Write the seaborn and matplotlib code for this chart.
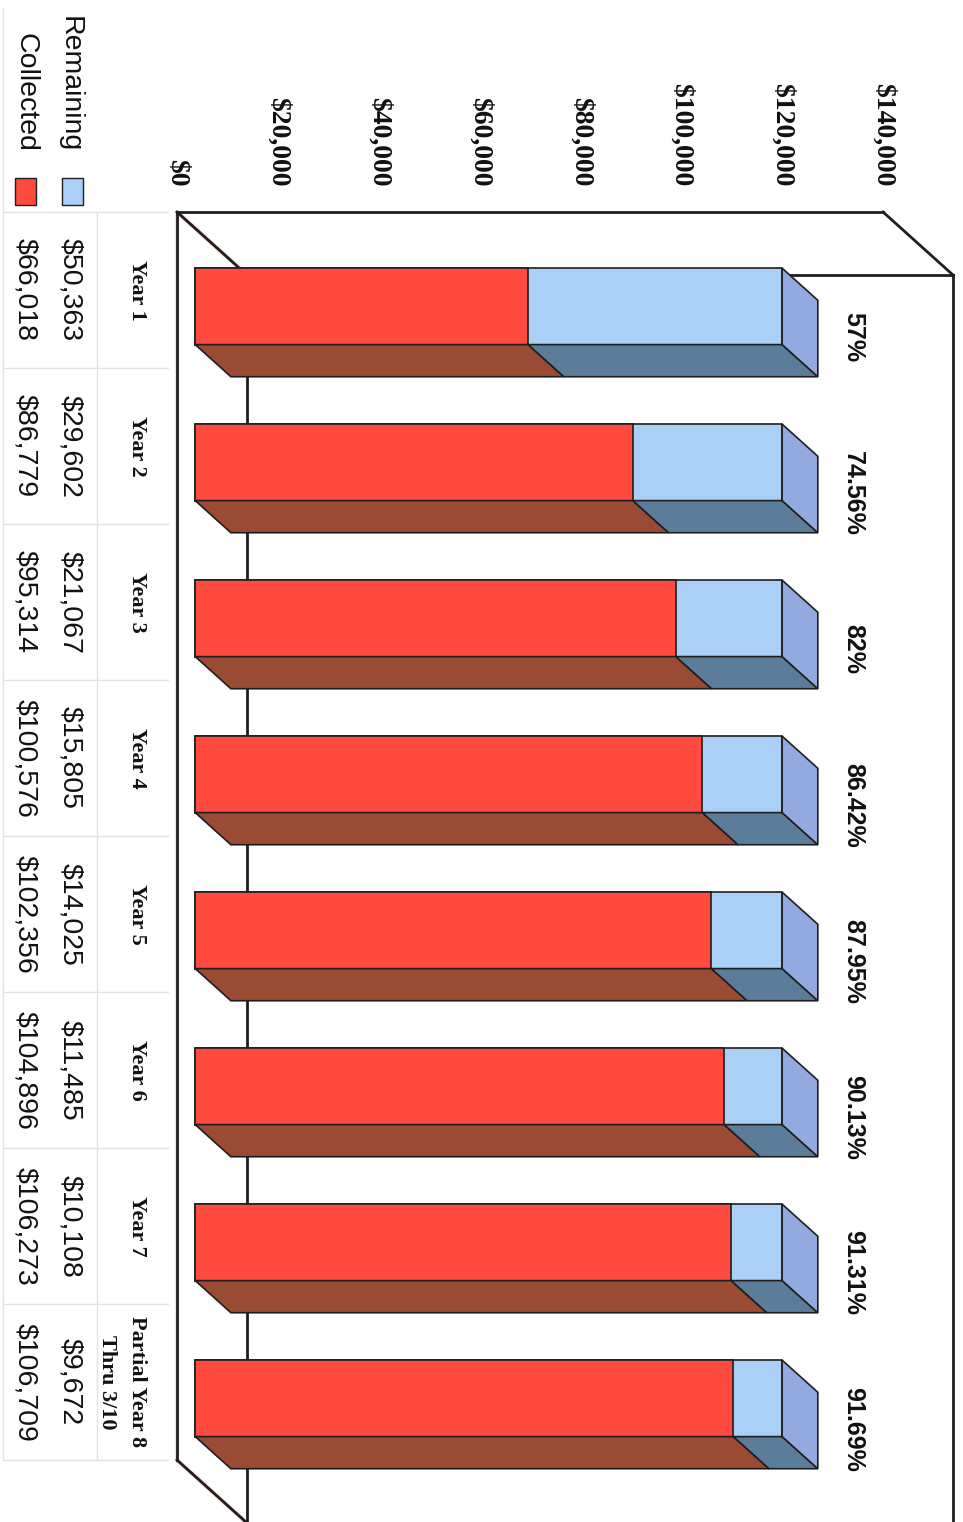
import pandas as pd
import seaborn as sns
from matplotlib import pyplot as plt
from matplotlib.patches import Polygon, Rectangle
from matplotlib.lines import Line2D

# data
periods = ["Year 1", "Year 2", "Year 3", "Year 4", "Year 5", "Year 6", "Year 7",
           "Partial Year 8\nThru 3/10"]
collected = [66018, 86779, 95314, 100576, 102356, 104896, 106273, 106709]
remaining = [50363, 29602, 21067, 15805, 14025, 11485, 10108, 9672]
pct_labels = ["57%", "74.56%", "82%", "86.42%", "87.95%", "90.13%", "91.31%", "91.69%"]
value_ticks = [0, 20000, 40000, 60000, 80000, 100000, 120000, 140000]

# colours
RED = "#ff4a40"
RED_DEPTH = "#9b4a33"
BLUE = "#abd0f7"
BLUE_DEPTH = "#5b7d99"
BLUE_SIDE = "#93aae0"
EDGE = "#1e1e1e"
GRID = "#e2e2e2"

# layout (pixels of the rotated picture)
W, H = 963, 1522
X0, K = 177, 0.005043      # x pixel of $0 on the front plane, pixels per dollar
Y0, S = 212, 156           # top of first category slot, pixels per slot
DEPTH = (70, 63)           # depth of the 3d box in pixels
BAR_D0, BAR_D1 = 0.26, 0.77
BAR_W = 0.49
VMAX = 140000

SERIF = ["Liberation Serif", "DejaVu Serif"]
SANS = ["Liberation Sans", "DejaVu Sans"]


def xd(px):  # pixel -> dollars
    return (px - X0) / K


def yd(py):  # pixel -> slot units
    return (py - Y0) / S - 0.5


def fig_xy(px, py):
    return px / W, 1 - py / H


def face(ax, pts, color):
    ax.add_patch(Polygon(pts, closed=True, facecolor=color, edgecolor=EDGE,
                         linewidth=1.2, zorder=3))


def frame_line(ax, xs, ys, halo=False):
    if halo:
        ax.plot(xs, ys, color="#fadcd9", lw=3.2, zorder=1, solid_capstyle="butt")
    ax.plot(xs, ys, color=EDGE, lw=2.0, zorder=2, solid_capstyle="projecting")


def main():
    df = pd.DataFrame({"period": periods, "collected": collected, "remaining": remaining})
    df["total"] = df["collected"] + df["remaining"]

    sns.set_theme(style="white")
    fig = plt.figure(figsize=(W / 100, H / 100), dpi=100)
    ax = fig.add_axes([0, 0, 1, 1])

    sns.barplot(data=df, x="total", y="period", orient="h", color=BLUE, width=BAR_W,
                saturation=1, edgecolor=EDGE, linewidth=1.2, errorbar=None, ax=ax, zorder=3)
    sns.barplot(data=df, x="collected", y="period", orient="h", color=RED, width=BAR_W,
                saturation=1, edgecolor=EDGE, linewidth=1.2, errorbar=None, ax=ax, zorder=3)

    # push the front faces back into the box
    fx, fy = DEPTH[0] * BAR_D0 / K, DEPTH[1] * BAR_D0 / S
    for p in ax.patches:
        p.set_x(p.get_x() + fx)
        p.set_y(p.get_y() + fy)

    # depth faces of each bar
    bx = DEPTH[0] * (BAR_D1 - BAR_D0) / K
    by = DEPTH[1] * (BAR_D1 - BAR_D0) / S
    for i, row in df.iterrows():
        yt = i - BAR_W / 2 + fy
        yb = i + BAR_W / 2 + fy
        x0, xc, xt = fx, row["collected"] + fx, row["total"] + fx
        face(ax, [(x0, yb), (xc, yb), (xc + bx, yb + by), (x0 + bx, yb + by)], RED_DEPTH)
        face(ax, [(xc, yb), (xt, yb), (xt + bx, yb + by), (xc + bx, yb + by)], BLUE_DEPTH)
        face(ax, [(xt, yt), (xt + bx, yt + by), (xt + bx, yb + by), (xt, yb)], BLUE_SIDE)

    # the 3d box
    n = len(periods)
    top, bot = -0.5, n - 0.5
    dx, dy = DEPTH[0] / K, DEPTH[1] / S
    frame_line(ax, [0, 0], [top, bot], halo=True)
    frame_line(ax, [0, VMAX], [top, top])
    frame_line(ax, [0, dx], [top, top + dy], halo=True)
    frame_line(ax, [VMAX, VMAX + dx], [top, top + dy])
    frame_line(ax, [dx, VMAX + dx], [top + dy, top + dy])
    frame_line(ax, [VMAX + dx, VMAX + dx], [top + dy, bot + dy])
    frame_line(ax, [dx, dx], [top + dy, bot + dy])
    frame_line(ax, [0, dx], [bot, bot + dy], halo=True)

    # value axis labels
    for v in value_ticks:
        ax.text(v, yd(186), f"${v:,}", rotation=270, ha="center", va="bottom",
                family=SERIF, weight="bold", size=20, color="#111111")

    # percent collected labels
    for i, lab in enumerate(pct_labels):
        ax.text(xd(853), i + (337 - 290) / S, lab, rotation=270, ha="center", va="center",
                family=SANS, weight="bold", size=18, color="#111111")

    ax.set_xlim(xd(0), xd(W))
    ax.set_ylim(yd(H), yd(0))
    ax.set_axis_off()

    # data table
    for k in range(n + 1):
        y = Y0 + k * S
        fig.add_artist(Line2D([fig_xy(3, y)[0], fig_xy(168, y)[0]],
                              [fig_xy(3, y)[1]] * 2, transform=fig.transFigure,
                              color=GRID, lw=1))
    for x in (3, 97):
        fig.add_artist(Line2D([fig_xy(x, 0)[0]] * 2,
                              [fig_xy(x, Y0 if x == 97 else 8)[1], fig_xy(x, Y0 + n * S)[1]],
                              transform=fig.transFigure, color=GRID, lw=1))

    fig.text(*fig_xy(70, 152), "Remaining", rotation=270, ha="center", va="bottom",
             family=SANS, size=20.5, color="#111111")
    fig.text(*fig_xy(25, 152), "Collected", rotation=270, ha="center", va="bottom",
             family=SANS, size=20.5, color="#111111")
    for (px, col) in ((62, BLUE), (15, RED)):
        fx0, fy0 = fig_xy(px, 205)
        fig.add_artist(Rectangle((fx0, fy0), 21 / W, 27 / H, transform=fig.transFigure,
                                 facecolor=col, edgecolor=EDGE, lw=1))

    for i in range(n):
        yc = Y0 + (i + 0.5) * S
        fig.text(*fig_xy(147, yc), periods[i], rotation=270, ha="right", va="center",
                 multialignment="center", linespacing=1.65,
                 family=SERIF, weight="bold", size=16, color="#111111")
        fig.text(*fig_xy(70, yc), f"${remaining[i]:,}", rotation=270, ha="center",
                 va="center", family=SANS, size=20.5, color="#111111")
        fig.text(*fig_xy(25, yc), f"${collected[i]:,}", rotation=270, ha="center",
                 va="center", family=SANS, size=20.5, color="#111111")

    fig.savefig("out.png", dpi=100, facecolor="white")


if __name__ == "__main__":
    main()
